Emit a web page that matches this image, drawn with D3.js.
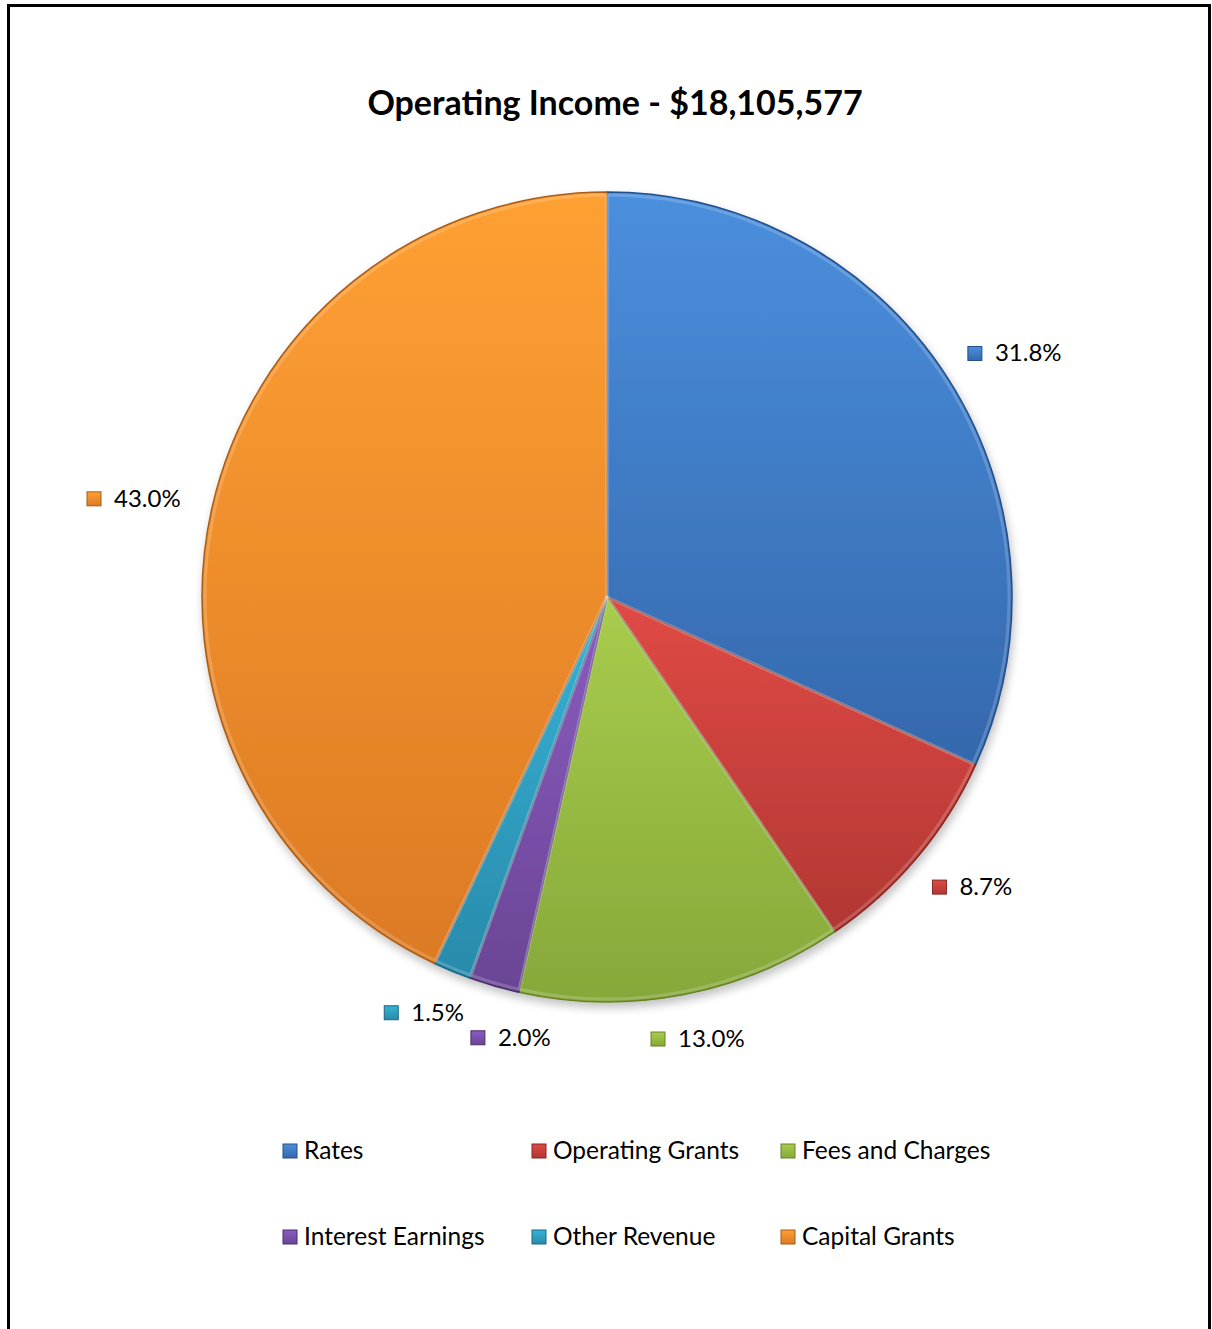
<!DOCTYPE html>
<html>
<head>
<meta charset="utf-8">
<script src="https://cdn.jsdelivr.net/npm/d3@7"></script>
<style>
  body { margin: 0; background: #fff; }
  text { font-family: Lato, "Open Sans", sans-serif; fill: #000; }
</style>
</head>
<body>
<script>
// data
let categories = ["Rates", "Operating Grants", "Fees and Charges", "Interest Earnings", "Other Revenue", "Capital Grants"];
let shares = [31.8, 8.7, 13.0, 2.0, 1.5, 43.0];
let labels = ["31.8%", "8.7%", "13.0%", "2.0%", "1.5%", "43.0%"];
let title = "Operating Income - $18,105,577";

// light / dark pairs for the office-style gradient
let lightCols = ["#4b8fdd", "#e04a45", "#a8cc4c", "#8a5cc0", "#35b3d6", "#ffa033"];
let darkCols  = ["#3568ad", "#b23733", "#86a83a", "#6a4595", "#2a8aab", "#dc7a24"];
let edgeCols  = ["#24508a", "#862824", "#67822b", "#4a2f6a", "#1c6880", "#a85c18"];

let width = 1212, height = 1329;
let cx = 607, cy = 597, r = 405;

let svg = d3.select("body").append("svg")
    .attr("width", width)
    .attr("height", height);

// frame (no bottom edge in the reference)
svg.append("path")
    .attr("d", "M8.5," + height + "V5.5H1209.5V" + height)
    .attr("fill", "none")
    .attr("stroke", "#000")
    .attr("stroke-width", 3);

let defs = svg.append("defs");
categories.forEach(function(c, i) {
    let g = defs.append("linearGradient")
        .attr("id", "grad" + i)
        .attr("x1", 0).attr("y1", 0).attr("x2", 0).attr("y2", 1);
    g.append("stop").attr("offset", "0%").attr("stop-color", lightCols[i]);
    g.append("stop").attr("offset", "100%").attr("stop-color", darkCols[i]);
});

let shadow = defs.append("filter").attr("id", "shadow")
    .attr("x", "-10%").attr("y", "-10%").attr("width", "120%").attr("height", "120%");
shadow.append("feGaussianBlur").attr("in", "SourceAlpha").attr("stdDeviation", 5);
shadow.append("feOffset").attr("dx", 2).attr("dy", 5).attr("result", "ob");
shadow.append("feComponentTransfer").append("feFuncA").attr("type", "linear").attr("slope", 0.25);
let mrg = shadow.append("feMerge");
mrg.append("feMergeNode");
mrg.append("feMergeNode").attr("in", "SourceGraphic");

svg.append("text")
    .attr("x", 615)
    .attr("y", 115)
    .attr("text-anchor", "middle")
    .style("font-size", "34px")
    .style("font-weight", "bold")
    .text(title);

let data = categories.map(function(c, i) { return {name: c, value: shares[i], label: labels[i], i: i}; });

let pie = d3.pie()
    .sort(null)
    .value(function(d) { return d.value; });

let arc = d3.arc().innerRadius(0).outerRadius(r);
let bevel = d3.arc().innerRadius(0).outerRadius(r - 3);

let g = svg.append("g")
    .attr("transform", "translate(" + cx + "," + cy + ")");

let slices = pie(data);

let pieG = g.append("g").attr("filter", "url(#shadow)");

pieG.selectAll(".slice")
    .data(slices)
    .enter().append("path")
    .attr("class", "slice")
    .attr("d", arc)
    .attr("fill", function(d) { return "url(#grad" + d.data.i + ")"; })
    .attr("stroke", function(d) { return edgeCols[d.data.i]; })
    .attr("stroke-width", 1.5)
    .attr("stroke-linejoin", "round");

// soft inner highlight for the bevel look
g.selectAll(".bev")
    .data(slices)
    .enter().append("path")
    .attr("class", "bev")
    .attr("d", bevel)
    .attr("fill", "none")
    .attr("stroke", "#fff")
    .attr("stroke-opacity", 0.18)
    .attr("stroke-width", 3)
    .attr("stroke-linejoin", "round");

// data labels: small marker + percentage, placed outside like Excel
let labR = 438, boxH = 24;
let lab = g.selectAll(".lab")
    .data(slices)
    .enter().append("g")
    .attr("class", "lab");

lab.append("rect")
    .attr("x", 0).attr("y", -7)
    .attr("width", 14).attr("height", 14)
    .attr("fill", function(d) { return "url(#grad" + d.data.i + ")"; })
    .attr("stroke", function(d) { return edgeCols[d.data.i]; })
    .attr("stroke-width", 1);

lab.append("text")
    .attr("x", 27)
    .attr("y", 8)
    .style("font-size", "24px")
    .text(function(d) { return d.data.label; });

function boxAt(d, a, w) {
    let px = labR * Math.sin(a), py = -labR * Math.cos(a);
    let mx = px + w / 2 * Math.sin(a), my = py - boxH / 2 * Math.cos(a);
    return {x0: mx - w / 2, x1: mx + w / 2, y0: my - boxH / 2, y1: my + boxH / 2, mx: mx, my: my};
}
function hit(a, b) {
    let pad = 6;
    return a.x0 < b.x1 + pad && b.x0 < a.x1 + pad && a.y0 < b.y1 + pad && b.y0 < a.y1 + pad;
}

let boxes = [];
lab.each(function(d) {
    let w = 27 + d3.select(this).select("text").node().getComputedTextLength();
    d.w = w;
    d.ang = (d.startAngle + d.endAngle) / 2;
});
// walk from the last slice backwards and push overlapping labels away
for (let k = slices.length - 1; k >= 0; k--) {
    let d = slices[k];
    let b = boxAt(d, d.ang, d.w);
    let guard = 0;
    while (boxes.some(function(o) { return hit(o, b); }) && guard < 200) {
        d.ang -= 0.005;
        b = boxAt(d, d.ang, d.w);
        guard++;
    }
    d.box = b;
    boxes.push(b);
}

lab.attr("transform", function(d) {
    return "translate(" + d.box.x0 + "," + d.box.my + ")";
});

// legend, 3 per row
let legX = d3.scalePoint().domain([0, 1, 2]).range([283, 781]);
let legY = d3.scalePoint().domain([0, 1]).range([1151, 1237]);

let leg = svg.selectAll(".leg")
    .data(data)
    .enter().append("g")
    .attr("class", "leg")
    .attr("transform", function(d) {
        return "translate(" + legX(d.i % 3) + "," + legY(Math.floor(d.i / 3)) + ")";
    });

leg.append("rect")
    .attr("x", 0).attr("y", -7)
    .attr("width", 14).attr("height", 14)
    .attr("fill", function(d) { return "url(#grad" + d.i + ")"; })
    .attr("stroke", function(d) { return edgeCols[d.i]; })
    .attr("stroke-width", 1);

leg.append("text")
    .attr("x", 21)
    .attr("y", 8)
    .style("font-size", "24.5px")
    .text(function(d) { return d.name; });
</script>
</body>
</html>
